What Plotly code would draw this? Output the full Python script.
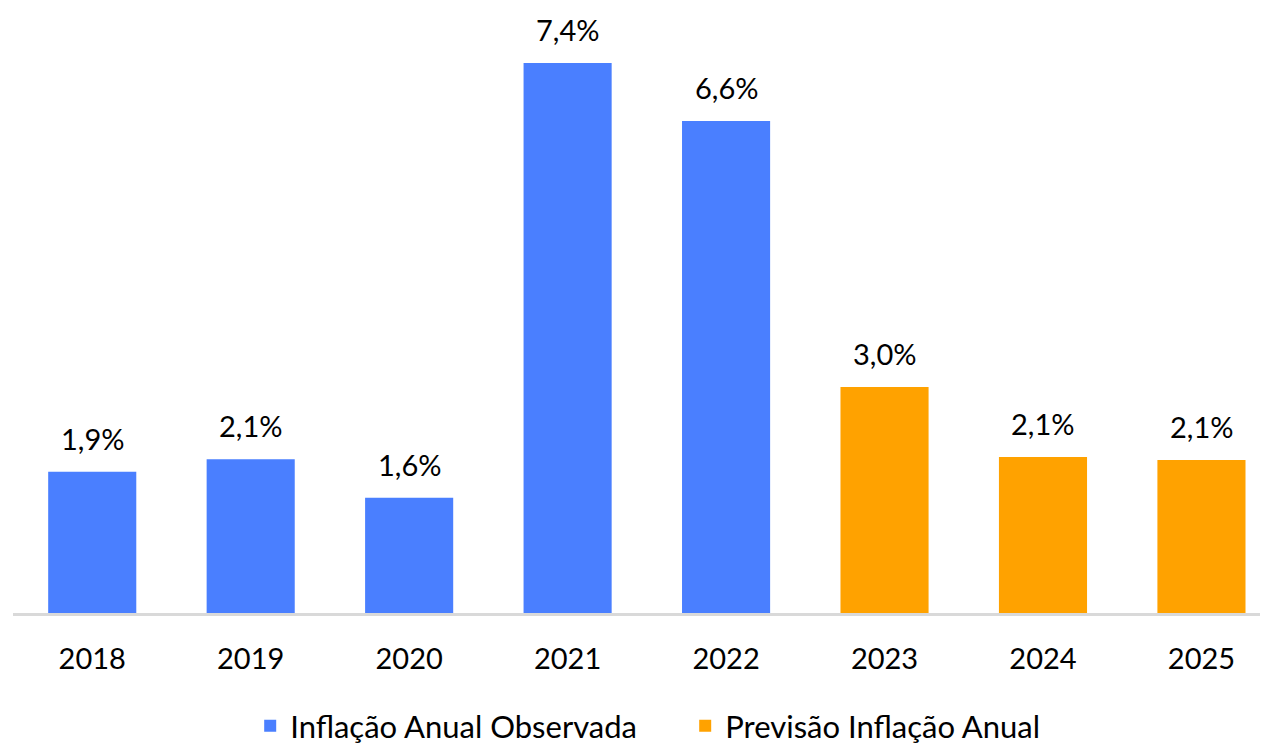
import plotly.graph_objects as go

years = ["2018", "2019", "2020", "2021", "2022", "2023", "2024", "2025"]
observed_years = years[:5]
observed_values = [1.9, 2.07, 1.55, 7.4, 6.62]
forecast_years = years[5:]
forecast_values = [3.04, 2.1, 2.06]

BLUE = "#4a7fff"
ORANGE = "#ffa200"
FONT = "Lato, 'Open Sans', sans-serif"

fig = go.Figure()
fig.add_trace(
    go.Bar(
        x=observed_years,
        y=observed_values,
        name="Inflação Anual Observada",
        marker=dict(color=BLUE, line=dict(width=0)),
    )
)
fig.add_trace(
    go.Bar(
        x=forecast_years,
        y=forecast_values,
        name="Previsão Inflação Anual",
        marker=dict(color=ORANGE, line=dict(width=0)),
    )
)

# value labels above each bar (category index, since year strings look numeric)
for xs, ys in [(observed_years, observed_values), (forecast_years, forecast_values)]:
    for x, y in zip(xs, ys):
        fig.add_annotation(
            x=years.index(x),
            y=y,
            text=f"{y:.1f}%".replace(".", ","),
            showarrow=False,
            yanchor="bottom",
            yshift=14,
            font=dict(size=29, color="#000000", family=FONT),
        )

# page body adds an 8px margin, so the figure is sized to fit the window
fig.update_layout(
    width=1260,
    height=739,
    barmode="overlay",
    bargap=0.444,
    margin=dict(l=5, r=0, t=0, b=134, autoexpand=False),
    paper_bgcolor="#ffffff",
    plot_bgcolor="#ffffff",
    font=dict(family=FONT, size=29, color="#000000"),
    showlegend=True,
    legend=dict(
        orientation="h",
        x=0.189,
        xanchor="left",
        y=-0.187,
        yanchor="middle",
        font=dict(size=31),
        itemwidth=30,
        entrywidth=390,
    ),
    xaxis=dict(
        type="category",
        categoryorder="array",
        categoryarray=years,
        range=[-0.5, 7.42],
        showline=True,
        linecolor="#d9d9d9",
        linewidth=3,
        showgrid=False,
        ticks="",
        ticklabelstandoff=18,
        tickfont=dict(size=29),
        automargin=False,
    ),
    yaxis=dict(
        range=[0, 8.14],
        visible=False,
        showgrid=False,
        zeroline=False,
        automargin=False,
    ),
)

fig.write_html("out.html")
